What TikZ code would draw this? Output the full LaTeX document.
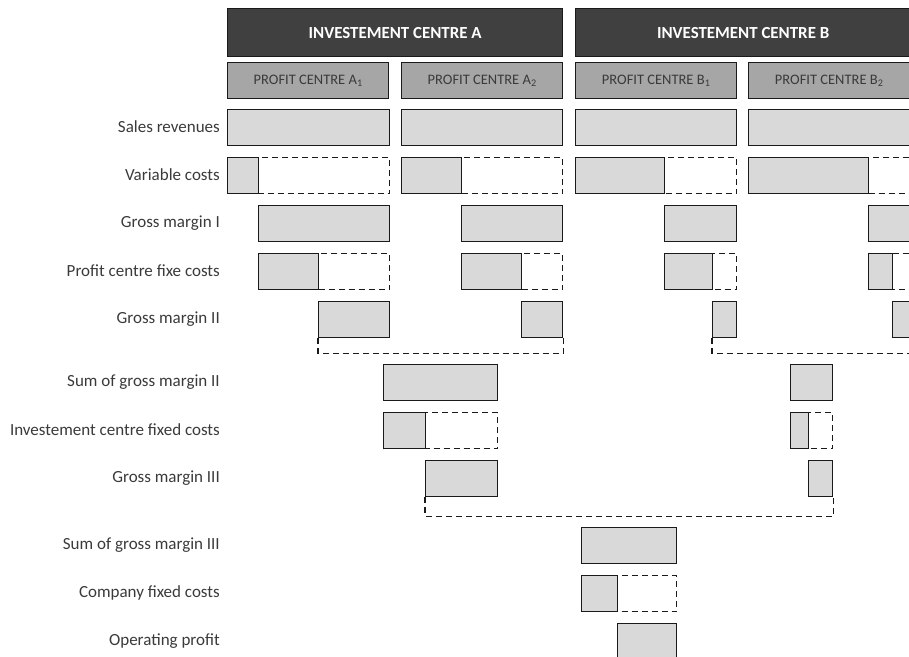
\documentclass[tikz,border=0pt]{standalone}
\usepackage{fontspec}
\setmainfont{Carlito}
\definecolor{headfill}{HTML}{404040}
\definecolor{pcfill}{HTML}{A6A6A6}
\definecolor{barfill}{HTML}{D9D9D9}
\definecolor{edge}{HTML}{1A1A1A}
\definecolor{labtext}{HTML}{3A3A3A}
\begin{document}
\begin{tikzpicture}[x=1pt,y=-1pt,
    head/.style={draw=edge, fill=headfill, line width=1.3pt, anchor=north west, inner sep=0pt,
      minimum height=48pt, minimum width=335pt, text=white, font=\fontsize{16.9}{19}\selectfont\bfseries},
    pc/.style={draw=edge, fill=pcfill, line width=1.3pt, anchor=north west, inner sep=0pt,
      minimum height=36pt, minimum width=161pt, text=labtext, font=\fontsize{14.5}{16}\selectfont},
    bar/.style={draw=edge, fill=barfill, line width=1.3pt, anchor=north west, inner sep=0pt, minimum height=36pt},
    gapbox/.style={draw=edge, dash pattern=on 6pt off 4pt, line width=1.3pt, anchor=north west, inner sep=0pt, minimum height=36pt},
    bracket/.style={draw=edge, dash pattern=on 6pt off 4pt, line width=1.3pt},
    lab/.style={anchor=east, text=labtext, inner sep=0pt, font=\fontsize{17}{19}\selectfont}]
  \clip (0,0) rectangle (909,656);
  % headers
  \node[head] (hA) at (227,8) {INVESTEMENT CENTRE A};
  \node[head] (hB) at (575,8) {INVESTEMENT CENTRE B};
  \node[pc] (pA1) at (227,62) {PROFIT CENTRE A\textsubscript{1}};
  \node[pc] (pA2) at (401,62) {PROFIT CENTRE A\textsubscript{2}};
  \node[pc] (pB1) at (575,62) {PROFIT CENTRE B\textsubscript{1}};
  \node[pc] (pB2) at (748,62) {PROFIT CENTRE B\textsubscript{2}};
  % row labels
  \node[lab] (l1) at (220,127) {Sales revenues};
  \node[lab] (l2) at (220,175) {Variable costs};
  \node[lab] (l3) at (220,223) {Gross margin I};
  \node[lab] (l4) at (220,271) {Profit centre fixe costs};
  \node[lab] (l5) at (220,319) {Gross margin II};
  \node[lab] (l6) at (220,382) {Sum of gross margin II};
  \node[lab] (l7) at (220,430) {Investement centre fixed costs};
  \node[lab] (l8) at (220,478) {Gross margin III};
  \node[lab] (l9) at (220,545) {Sum of gross margin III};
  \node[lab] (l10) at (220,593) {Company fixed costs};
  \node[lab] (l11) at (220,641) {Operating profit};
  % profit centre A1
  \node[bar, minimum width=162pt] (sA1) at (227,109) {};
  \node[gapbox, minimum width=162pt] (rA1) at (227,157) {};
  \node[bar, minimum width=31pt] (vA1) at (227,157) {};
  \node[bar, minimum width=131pt] (gA1) at (258,205) {};
  \node[gapbox, minimum width=131pt] (qA1) at (258,253) {};
  \node[bar, minimum width=60pt] (fA1) at (258,253) {};
  \node[bar, minimum width=71pt] (mA1) at (318,301) {};
  % profit centre A2
  \node[bar, minimum width=161pt] (sA2) at (401,109) {};
  \node[gapbox, minimum width=161pt] (rA2) at (401,157) {};
  \node[bar, minimum width=60pt] (vA2) at (401,157) {};
  \node[bar, minimum width=101pt] (gA2) at (461,205) {};
  \node[gapbox, minimum width=101pt] (qA2) at (461,253) {};
  \node[bar, minimum width=60pt] (fA2) at (461,253) {};
  \node[bar, minimum width=41pt] (mA2) at (521,301) {};
  % profit centre B1
  \node[bar, minimum width=161pt] (sB1) at (575,109) {};
  \node[gapbox, minimum width=161pt] (rB1) at (575,157) {};
  \node[bar, minimum width=89pt] (vB1) at (575,157) {};
  \node[bar, minimum width=72pt] (gB1) at (664,205) {};
  \node[gapbox, minimum width=72pt] (qB1) at (664,253) {};
  \node[bar, minimum width=48pt] (fB1) at (664,253) {};
  \node[bar, minimum width=24pt] (mB1) at (712,301) {};
  % profit centre B2
  \node[bar, minimum width=162pt] (sB2) at (748,109) {};
  \node[gapbox, minimum width=162pt] (rB2) at (748,157) {};
  \node[bar, minimum width=120pt] (vB2) at (748,157) {};
  \node[bar, minimum width=42pt] (gB2) at (868,205) {};
  \node[gapbox, minimum width=42pt] (qB2) at (868,253) {};
  \node[bar, minimum width=24pt] (fB2) at (868,253) {};
  \node[bar, minimum width=18pt] (mB2) at (892,301) {};
  \draw[bracket] (mA1.south west) -- ++(0,15) -| (mA2.south east);
  \draw[bracket] (mB1.south west) -- ++(0,15) -| (mB2.south east);
  % investement centres
  \node[bar, minimum width=114pt] (uA) at (383,364) {};
  \node[gapbox, minimum width=114pt] (kA) at (383,412) {};
  \node[bar, minimum width=42pt] (iA) at (383,412) {};
  \node[bar, minimum width=72pt] (tA) at (425,460) {};
  \node[bar, minimum width=42pt] (uB) at (790,364) {};
  \node[gapbox, minimum width=42pt] (kB) at (790,412) {};
  \node[bar, minimum width=18pt] (iB) at (790,412) {};
  \node[bar, minimum width=24pt] (tB) at (808,460) {};
  \draw[bracket] (tA.south west) -- ++(0,19) -| (tB.south east);
  % company
  \node[bar, minimum width=95pt] (uC) at (581,527) {};
  \node[gapbox, minimum width=95pt] (kC) at (581,575) {};
  \node[bar, minimum width=36pt] (iC) at (581,575) {};
  \node[bar, minimum width=59pt] (op) at (617,623) {};
\end{tikzpicture}
\end{document}
